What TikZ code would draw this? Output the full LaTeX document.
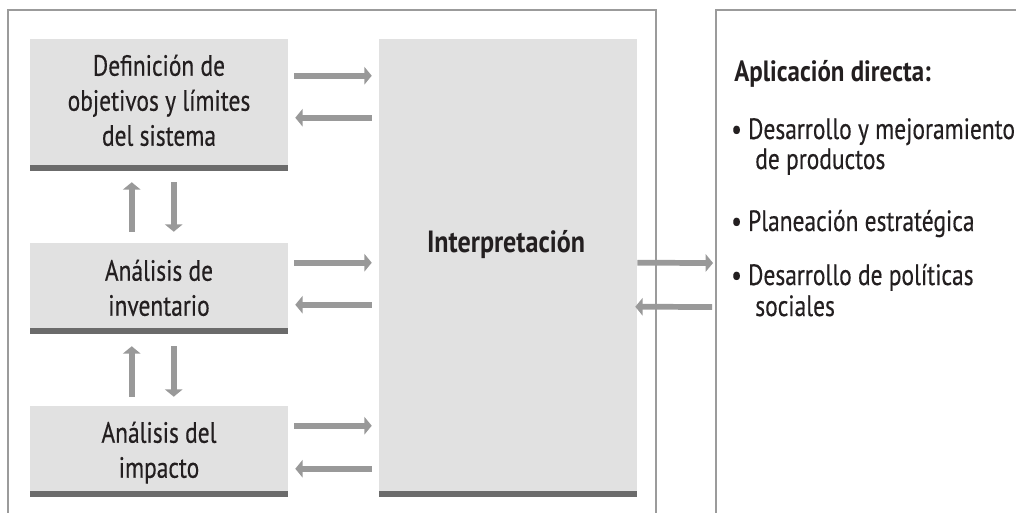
\documentclass[tikz,border=0pt]{standalone}
\usepackage{fontspec}
\setmainfont{PT Sans}[FakeStretch=0.8,FakeBold=0.4]
\newfontfamily\headfont{PT Sans Bold}[FakeStretch=0.85]
\usetikzlibrary{arrows.meta,calc,fit}
\definecolor{framegray}{HTML}{9B9B9B}
\definecolor{boxfill}{HTML}{E1E1E1}
\definecolor{bargray}{HTML}{6B6B6B}
\definecolor{arrowgray}{HTML}{999999}
\definecolor{ink}{HTML}{231F20}
\begin{document}
\begin{tikzpicture}[x=0.75pt,y=-0.75pt,
  box/.style={fill=boxfill, inner sep=0pt},
  arr/.style={draw=arrowgray, line width=4.3pt,
    -{Triangle[length=5.5pt,width=13pt]}},
  frameline/.style={draw=framegray, line width=1.6pt},
  txt/.style={text=ink, inner sep=0pt, anchor=base west,
    font=\fontsize{22}{26.25}\selectfont},
  boldtxt/.style={txt, font=\fontsize{22}{26.25}\selectfont\headfont}]
\useasboundingbox (0,0) rectangle (1016,513);
% frames
\draw[frameline] (8,513) -- (8,10) -- (656,10) -- (656,513);
\draw[frameline] (716,513) -- (716,10) -- (1016,10);
\coordinate (rf) at (716,10);
% boxes
\node[box, fit={(30,39) (288,165)}] (b1) {};
\node[box, fit={(30,243) (288,328)}] (b2) {};
\node[box, fit={(30,406) (288,491)}] (b3) {};
\node[box, fit={(379,39) (637,491)}] (interp) {};
\node[txt, anchor=base] at ($(b1.north)+(0,37)$) (t1a) {Definición de};
\node[txt, anchor=base] at ($(b1.north)+(0,72)$) (t1b) {objetivos y límites};
\node[txt, anchor=base] at ($(b1.north)+(0,107)$) (t1c) {del sistema};
\node[txt, anchor=base] at ($(b2.north)+(0,38)$) (t2a) {Análisis de};
\node[txt, anchor=base] at ($(b2.north)+(0,73)$) (t2b) {inventario};
\node[txt, anchor=base] at ($(b3.north)+(0,37)$) (t3a) {Análisis del};
\node[txt, anchor=base] at ($(b3.north)+(0,72)$) (t3b) {impacto};
\node[boldtxt, anchor=base, font=\fontsize{23}{27}\selectfont\headfont]
  at ($(interp.north)+(-2,214)$) (ti) {Interpretación};
% bars
\fill[bargray] (b1.south west) rectangle ++(258,6);
\fill[bargray] (b2.south west) rectangle ++(258,6);
\fill[bargray] (b3.south west) rectangle ++(258,6);
\fill[bargray] (interp.south west) rectangle ++(258,6);
% horizontal arrows
\coordinate (a1r) at ($(b1.north east)+(6,37)$);
\coordinate (a1l) at ($(b1.north east)+(7,79)$);
\coordinate (a2r) at ($(b2.north east)+(6,20)$);
\coordinate (a2l) at ($(b2.north east)+(7,62)$);
\coordinate (a3r) at ($(b3.north east)+(6,20)$);
\coordinate (a3l) at ($(b3.north east)+(7,63)$);
\draw[arr] (a1r) -- ($(a1r -| interp.west)+(-7,0)$);
\draw[arr] ($(a1l -| interp.west)+(-7,0)$) -- (a1l);
\draw[arr] (a2r) -- ($(a2r -| interp.west)+(-7,0)$);
\draw[arr] ($(a2l -| interp.west)+(-7,0)$) -- (a2l);
\draw[arr] (a3r) -- ($(a3r -| interp.west)+(-7,0)$);
\draw[arr] ($(a3l -| interp.west)+(-7,0)$) -- (a3l);
% vertical arrows
\draw[arr] ($(b2.north west)+(102,-11)$) -- ($(b1.south west)+(102,17)$);
\draw[arr] ($(b1.south west)+(144,17)$) -- ($(b2.north west)+(144,-11)$);
\draw[arr] ($(b3.north west)+(102,-9)$) -- ($(b2.south west)+(102,18)$);
\draw[arr] ($(b2.south west)+(144,18)$) -- ($(b3.north west)+(144,-9)$);
% interpretation <-> application
\draw[arr] ($(interp.north east)+(0,224)$) -- ($(rf)+(-3,253)$);
\draw[arr] ($(rf)+(-4,297)$) -- ($(interp.north east)+(-2,268)$);
% right panel
\node[boldtxt] at (734,82) (ap) {Aplicación directa:};
\node[txt] at (731,139) (l1) {• Desarrollo y mejoramiento};
\node[txt] at (755,169) (l1b) {de productos};
\node[txt] at (731,231) (l2) {• Planeación estratégica};
\node[txt] at (731,285) (l3) {• Desarrollo de políticas};
\node[txt] at (755,316) (l3b) {sociales};
\end{tikzpicture}
\end{document}
